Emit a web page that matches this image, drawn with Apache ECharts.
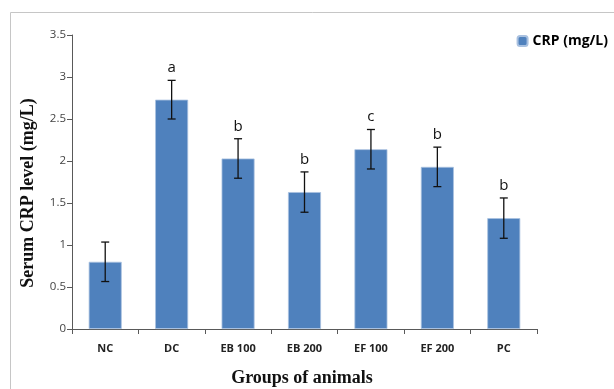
<!DOCTYPE html>
<html><head><meta charset="utf-8">
<script src="https://cdn.jsdelivr.net/npm/echarts@6/dist/echarts.min.js"></script>
<style>html,body{margin:0;padding:0;background:#fff}#c{width:614px;height:389px}</style>
</head><body><div id="c"></div>
<script>
const categories = ['NC','DC','EB 100','EB 200','EF 100','EF 200','PC'];
const crpValues = [0.80, 2.73, 2.03, 1.63, 2.14, 1.93, 1.32];
const crpErrors = [0.235, 0.23, 0.235, 0.24, 0.235, 0.235, 0.24];
const sigLetters = ['', 'a', 'b', 'b', 'c', 'b', 'b'];
const yTicks = [0, 0.5, 1, 1.5, 2, 2.5, 3, 3.5];
const xTitle = 'Groups of animals';
const yTitle = 'Serum CRP level (mg/L)';

const chart = echarts.init(document.getElementById('c'));
chart.setOption({
  animation: false,
  graphic: [{
    type: 'rect', shape: {x: 10.5, y: 12.5, width: 640, height: 400},
    style: {fill: 'none', stroke: '#c6c6c6', lineWidth: 1}, silent: true, z: -10
  }, {
    type: 'text', x: 302, y: 378,
    style: {text: xTitle, align: 'center', verticalAlign: 'middle', font: 'bold 18px "Liberation Serif"', fill: '#111'}
  }, {
    type: 'text', x: 28, y: 193, rotation: Math.PI / 2,
    style: {text: yTitle, align: 'center', verticalAlign: 'middle', font: 'bold 18px "Liberation Serif"', fill: '#111'}
  }],
  legend: {
    right: 1, top: 29, itemWidth: 10, itemHeight: 10, itemGap: 3,
    textStyle: {fontFamily: 'Open Sans', fontWeight: 'bold', fontSize: 14, color: '#000'},
    data: ['CRP (mg/L)']
  },
  grid: {left: 72, right: 77, top: 35, bottom: 60},
  xAxis: {
    type: 'category', data: categories,
    axisLine: {lineStyle: {color: '#595959', width: 1}},
    axisTick: {show: true, length: 5, lineStyle: {color: '#595959'}},
    axisLabel: {fontFamily: 'Open Sans', fontWeight: 'bold', fontSize: 11, color: '#222', margin: 14}
  },
  yAxis: {
    type: 'value', min: yTicks[0], max: yTicks[yTicks.length-1], interval: 0.5,
    axisLine: {show: true, lineStyle: {color: '#595959', width: 1}},
    axisTick: {show: true, length: 5, lineStyle: {color: '#595959'}},
    splitLine: {show: false},
    axisLabel: {fontFamily: 'Open Sans', fontSize: 11.5, color: '#444', margin: 6}
  },
  series: [{
    name: 'CRP (mg/L)', type: 'bar', data: crpValues, barWidth: 33,
    itemStyle: {color: '#4F81BD', borderColor: '#a9c1e0', borderWidth: 0.8}
  }, {
    type: 'custom', name: 'err',
    data: crpValues.map((v, i) => [i, v - crpErrors[i], v + crpErrors[i]]),
    renderItem: function (params, api) {
      const lo = api.coord([api.value(0), api.value(1)]);
      const hi = api.coord([api.value(0), api.value(2)]);
      const x = lo[0], hw = 4;
      const st = {stroke: '#111', lineWidth: 1.3};
      const letter = sigLetters[params.dataIndex];
      const children = [
        {type: 'line', shape: {x1: x, y1: lo[1], x2: x, y2: hi[1]}, style: st},
        {type: 'line', shape: {x1: x - hw, y1: lo[1], x2: x + hw, y2: lo[1]}, style: st},
        {type: 'line', shape: {x1: x - hw, y1: hi[1], x2: x + hw, y2: hi[1]}, style: st}
      ];
      if (letter) children.push({type: 'text', style: {text: letter, x: x, y: hi[1] - 5, align: 'center', verticalAlign: 'bottom', font: '15px "Open Sans"', fill: '#111'}});
      return {type: 'group', children: children};
    },
    z: 10
  }]
});
</script></body></html>
